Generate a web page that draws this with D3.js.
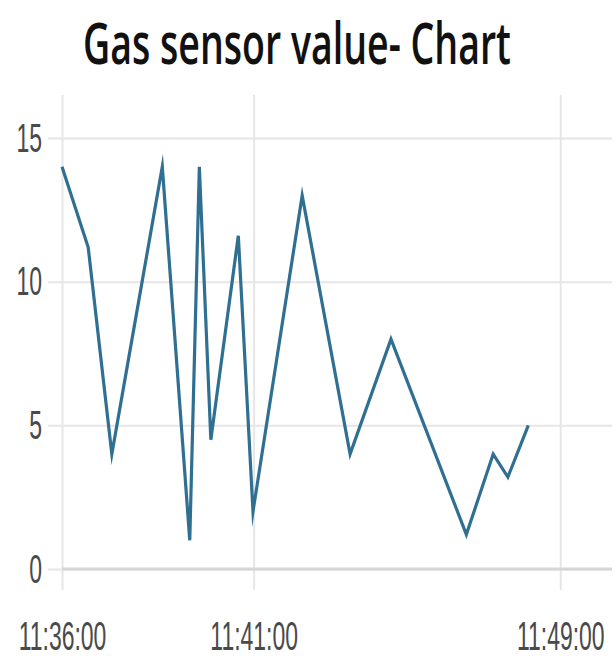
<!DOCTYPE html>
<html>
<head>
<meta charset="utf-8">
<script src="https://cdn.jsdelivr.net/npm/d3@7"></script>
<style>
  html, body { margin: 0; padding: 0; background: #fff; }
  svg { display: block; }
</style>
</head>
<body>
<svg id="chart" width="616" height="663"></svg>
<script>
// ---- data ----
const titleText = "Gas sensor value- Chart";
const times = ["11:36:00","11:36:41","11:37:18","11:38:37","11:39:20","11:39:35","11:39:53","11:40:36",
               "11:40:59","11:42:16","11:43:31","11:44:35","11:46:33","11:47:15","11:47:38","11:48:10"];
const values = [14, 11.2, 4, 14, 1, 14, 4.5, 11.6, 2, 13, 4, 8, 1.2, 4, 3.2, 5];
const xTickLabels = ["11:36:00","11:41:00","11:49:00"];
const yTickValues = [0, 5, 10, 15];
const xDomain = ["11:36:00","11:50:21"];
const yDomain = [0, 16.5];

// ---- layout ----
const parse = d3.timeParse("%H:%M:%S");
const fmt = d3.timeFormat("%H:%M:%S");
const plot = { left: 62, right: 612, top: 95, bottom: 569 };
const squeeze = 0.56;
const labelSize = 41;

const svg = d3.select("#chart");

const x = d3.scaleTime().domain(xDomain.map(parse)).range([plot.left, plot.right]);
const y = d3.scaleLinear().domain(yDomain).range([plot.bottom, plot.top]);

// horizontal grid + y labels
const yAxis = d3.axisLeft(y).tickValues(yTickValues).tickSizeInner(-(plot.right - 48)).tickSizeOuter(0).tickPadding(6);
const gy = svg.append("g").attr("transform", "translate(48,0)").call(yAxis);
gy.select(".domain").remove();
gy.selectAll(".tick line").attr("stroke", "#e6e6e6").attr("stroke-width", 2);
gy.selectAll(".tick text")
  .attr("font-family", "Liberation Sans, Arial, sans-serif")
  .attr("font-size", labelSize)
  .attr("fill", "#4a4a4a")
  .attr("x", -6 / squeeze)
  .attr("transform", `scale(${squeeze},1)`);

// vertical grid + x labels
const xTicks = xTickLabels.map(parse);
const xAxis = d3.axisBottom(x).tickValues(xTicks).tickFormat(fmt).tickSizeInner(-(590 - plot.top)).tickSizeOuter(0).tickPadding(31);
const gx = svg.append("g").attr("transform", "translate(0,590)").call(xAxis);
gx.select(".domain").remove();
gx.selectAll(".tick line").attr("stroke", "#e6e6e6").attr("stroke-width", 2);
gx.selectAll(".tick text")
  .attr("font-family", "Liberation Sans, Arial, sans-serif")
  .attr("font-size", labelSize)
  .attr("fill", "#4a4a4a")
  .attr("transform", `scale(${squeeze},1)`);

// zero line
svg.append("line")
  .attr("x1", plot.left).attr("x2", plot.right)
  .attr("y1", y(0)).attr("y2", y(0))
  .attr("stroke", "#d6d6d6").attr("stroke-width", 3);

// data line
const data = times.map((t, i) => ({ t: parse(t), v: values[i] }));
svg.append("path")
  .datum(data)
  .attr("fill", "none")
  .attr("stroke", "#2f6f92")
  .attr("stroke-width", 3.2)
  .attr("stroke-miterlimit", 10)
  .attr("d", d3.line().x(d => x(d.t)).y(d => y(d.v)));

// title
const title = svg.append("text")
  .attr("font-family", "Open Sans, sans-serif")
  .attr("font-weight", 600)
  .attr("font-size", 58)
  .attr("fill", "#111")
  .attr("text-anchor", "middle")
  .text(titleText);
const tw = title.node().getComputedTextLength();
const sx = 428 / tw;
title.attr("transform", `translate(297,64) scale(${sx},1)`);
</script>
</body>
</html>
